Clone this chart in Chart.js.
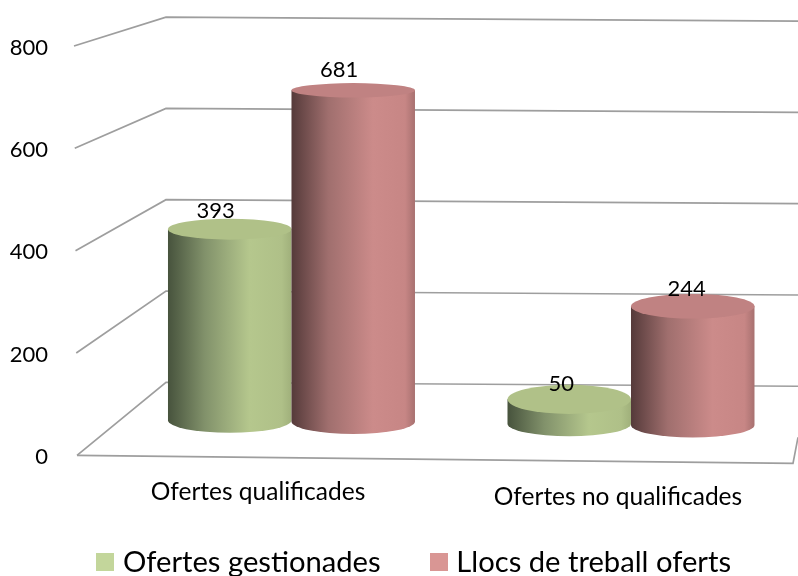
<!DOCTYPE html>
<html><head><meta charset="utf-8">
<style>html,body{margin:0;padding:0;background:#fff}canvas{display:block}</style>
<script src="https://cdn.jsdelivr.net/npm/chart.js@4"></script>
</head><body><canvas id="c" width="798" height="576"></canvas>
<script>
const categories = ['Ofertes qualificades', 'Ofertes no qualificades'];
const seriesNames = ['Ofertes gestionades', 'Llocs de treball oferts'];
const ofertesGestionades = [393, 50];
const llocsOferts = [681, 244];
const yTicks = [0, 200, 400, 600, 800];

const FONT = 'Lato, Carlito, sans-serif';
const legendColors = ['#c3d69b', '#d99694'];
const shades = [
  {stops: ['#47533d', '#82926b', '#b5c78d', '#afc088', '#a0b07b'], top: '#b0c188'},
  {stops: ['#553a3a', '#a06f6e', '#cc8b8a', '#c78685', '#a87170'], top: '#c08282'}
];
const labelNudge = [[[-14, -18], [-8, -15]], [[-14, -20], [-6, -17]]];

function swatch(color) {
  const s = document.createElement('canvas');
  s.width = 18; s.height = 18;
  const g = s.getContext('2d');
  g.fillStyle = color; g.fillRect(0, 0, 18, 18);
  return s;
}

const scene3d = {
  id: 'scene3d',
  afterLayout(chart) {
    const l = chart.legend;
    l.top -= 22.75; l.bottom -= 22.75;
    l.left += 17.75; l.right += 17.75;
  },
  beforeDatasetsDraw(chart) {
    const ctx = chart.ctx, y = chart.scales.y;
    ctx.save();
    ctx.strokeStyle = '#9e9e9e';
    ctx.lineWidth = 1.7;
    ctx.lineJoin = 'miter';
    yTicks.forEach(v => {
      const p = y.getPixelForValue(v);
      const back = 382 + (p - 455) * 0.892;
      ctx.beginPath();
      ctx.moveTo(77 - 3 * (v / 800), p);
      ctx.lineTo(166, back);
      ctx.lineTo(798, back + 4);
      ctx.stroke();
    });
    const p0 = y.getPixelForValue(0);
    ctx.beginPath();
    ctx.moveTo(77, p0);
    ctx.lineTo(793, p0 + 8);
    ctx.lineTo(798, p0 - 18);
    ctx.stroke();
    ctx.restore();
    chart.data.datasets.forEach((ds, d) => {
      chart.getDatasetMeta(d).data.forEach(bar => drawCylinder(ctx, bar, d));
    });
  },
  beforeDatasetDraw() { return false; },
  afterDatasetsDraw(chart) {
    const ctx = chart.ctx;
    ctx.save();
    ctx.fillStyle = '#000';
    ctx.font = '22px ' + FONT;
    ctx.textAlign = 'center';
    ctx.textBaseline = 'middle';
    chart.data.datasets.forEach((ds, d) => {
      chart.getDatasetMeta(d).data.forEach((bar, i) => {
        const n = labelNudge[d][i];
        ctx.fillText(String(ds.data[i].y), bar.x + n[0], bar.y + tilt(bar.x) + n[1]);
      });
    });
    ctx.restore();
  }
};
function tilt(x) { return (x - 229) * 0.01; }
function drawCylinder(ctx, bar, d) {
  const rx = bar.width / 2, cx = bar.x, t = tilt(cx);
  const top = bar.y + t, base = bar.base + t;
  const ryTop = 5 + top * 0.024, ryBase = 12.5;
  const g = ctx.createLinearGradient(cx - rx, 0, cx + rx, 0);
  const st = shades[d].stops;
  g.addColorStop(0, st[0]); g.addColorStop(0.3, st[1]);
  g.addColorStop(0.66, st[2]); g.addColorStop(0.92, st[3]); g.addColorStop(1, st[4]);
  ctx.save();
  ctx.fillStyle = g;
  ctx.beginPath();
  ctx.moveTo(cx - rx, top);
  ctx.lineTo(cx - rx, base);
  ctx.ellipse(cx, base, rx, ryBase, 0, Math.PI, 0, true);
  ctx.lineTo(cx + rx, top);
  ctx.closePath();
  ctx.fill();
  ctx.fillStyle = shades[d].top;
  ctx.beginPath();
  ctx.ellipse(cx, top, rx, ryTop, 0, 0, Math.PI * 2);
  ctx.fill();
  ctx.restore();
}

new Chart(document.getElementById('c'), {
  type: 'bar',
  data: {
    datasets: [
      {label: seriesNames[0], xAxisID: 'xBars', yAxisID: 'yDepth', backgroundColor: legendColors[0], barThickness: 123.5,
       data: ofertesGestionades.map((v, i) => ({x: i, y: v}))},
      {label: seriesNames[1], xAxisID: 'xBars', yAxisID: 'yDepth', backgroundColor: legendColors[1], barThickness: 123.5,
       data: llocsOferts.map((v, i) => ({x: i, y: v}))}
    ]
  },
  plugins: [scene3d],
  options: {
    responsive: false,
    animation: false,
    events: [],
    layout: {padding: {left: 0, right: 0, top: 46, bottom: -33.5}},
    scales: {
      x: {
        type: 'category', labels: categories, position: 'bottom', axis: 'x',
        grid: {display: false, drawTicks: false}, border: {display: false},
        afterFit(s) { s.height = 60; },
        ticks: {
          maxRotation: 0, autoSkip: false, padding: 22, color: '#000',
          font: c => ({family: FONT, size: 24.5, lineHeight: c.index ? '40px' : '30px'})
        }
      },
      y: {
        type: 'linear', position: 'left', axis: 'y', min: 0, max: 800,
        grid: {display: false, drawTicks: false}, border: {display: false},
        afterFit(s) { s.width = 78; },
        afterBuildTicks(s) { s.ticks = yTicks.map(v => ({value: v})); },
        ticks: {padding: 30, labelOffset: 1.5, color: '#000', font: {family: FONT, size: 22}}
      },
      xBars: {type: 'linear', axis: 'x', position: 'bottom', display: false, offset: false, min: -0.6288, max: 1.4919},
      yDepth: {type: 'linear', axis: 'y', position: 'left', display: false, min: -72, max: 769.5}
    },
    plugins: {
      tooltip: {enabled: false},
      legend: {
        position: 'bottom',
        labels: {
          padding: 55, color: '#000', usePointStyle: true, pointStyleWidth: 6,
          font: {family: FONT, size: 29.2},
          generateLabels: c => c.data.datasets.map((ds, i) => ({
            text: ds.label, datasetIndex: i, fontColor: '#000', pointStyle: swatch(legendColors[i]),
            fillStyle: legendColors[i], strokeStyle: legendColors[i], lineWidth: 0
          }))
        }
      }
    }
  }
});
</script></body></html>
